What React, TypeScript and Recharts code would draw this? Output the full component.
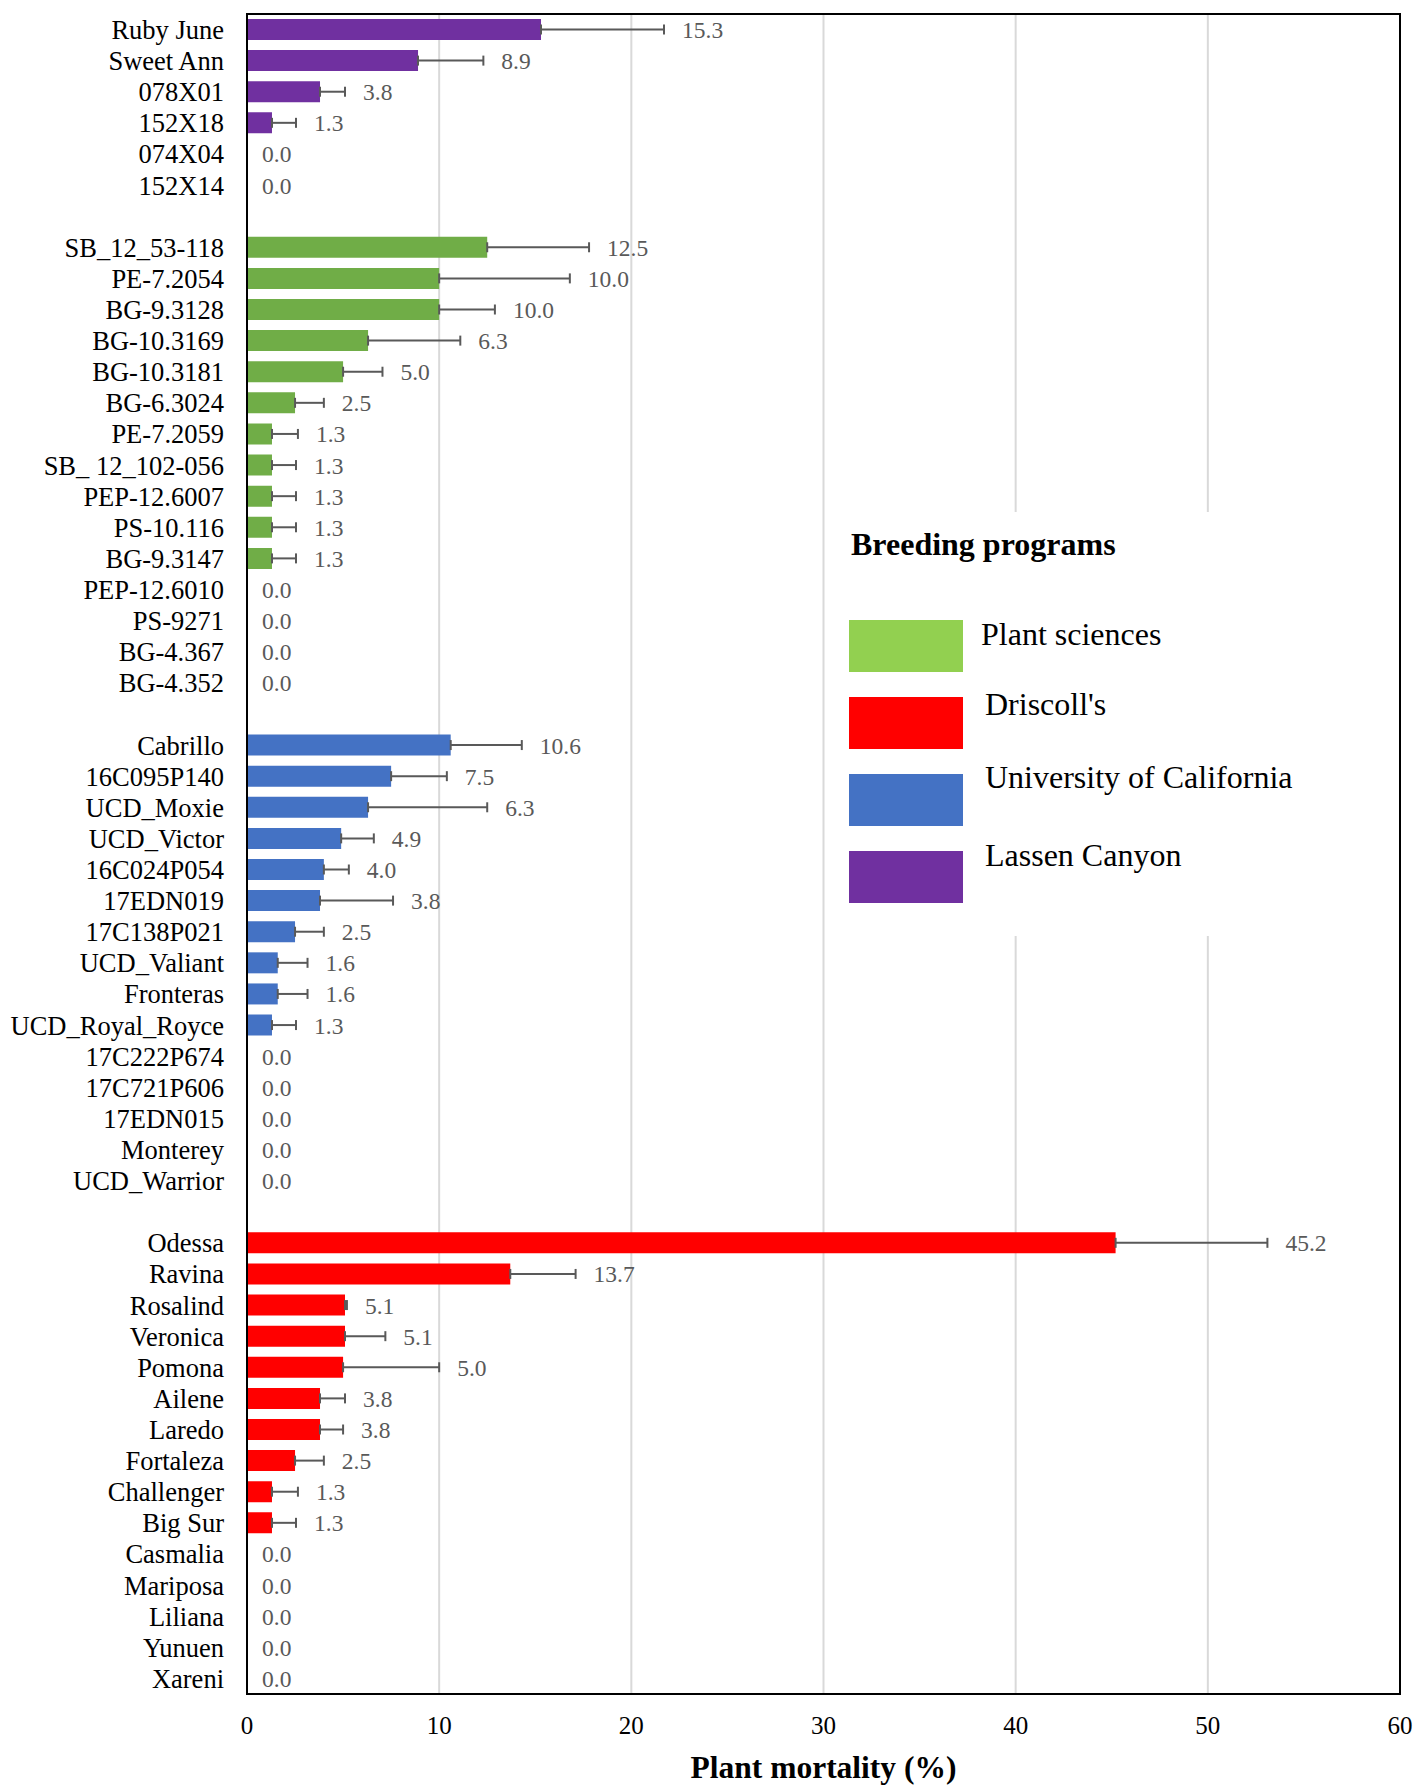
import React from "react";
import {
    BarChart,
    Bar,
    XAxis,
    YAxis,
    CartesianGrid,
    ErrorBar,
    Cell,
    LabelList,
    ReferenceArea
} from "recharts";

const FONT = '"Liberation Serif", "Times New Roman", serif';

// Lassen Canyon
const lassenNames = ["Ruby June", "Sweet Ann", "078X01", "152X18", "074X04", "152X14"];
const lassenMortality = [15.3, 8.9, 3.8, 1.3, 0, 0];
const lassenError = [6.4, 3.4, 1.3, 1.25, 0, 0];

// Plant sciences
const plantNames = [
    "SB_12_53-118", "PE-7.2054", "BG-9.3128", "BG-10.3169", "BG-10.3181", "BG-6.3024",
    "PE-7.2059", "SB_ 12_102-056", "PEP-12.6007", "PS-10.116", "BG-9.3147",
    "PEP-12.6010", "PS-9271", "BG-4.367", "BG-4.352"
];
const plantMortality = [12.5, 10.0, 10.0, 6.3, 5.0, 2.5, 1.3, 1.3, 1.3, 1.3, 1.3, 0, 0, 0, 0];
const plantError = [5.3, 6.8, 2.9, 4.8, 2.05, 1.5, 1.35, 1.25, 1.25, 1.25, 1.25, 0, 0, 0, 0];

// University of California
const ucNames = [
    "Cabrillo", "16C095P140", "UCD_Moxie", "UCD_Victor", "16C024P054", "17EDN019",
    "17C138P021", "UCD_Valiant", "Fronteras", "UCD_Royal_Royce", "17C222P674",
    "17C721P606", "17EDN015", "Monterey", "UCD_Warrior"
];
const ucMortality = [10.6, 7.5, 6.3, 4.9, 4.0, 3.8, 2.5, 1.6, 1.6, 1.3, 0, 0, 0, 0, 0];
const ucError = [3.7, 2.9, 6.2, 1.7, 1.3, 3.8, 1.5, 1.55, 1.55, 1.25, 0, 0, 0, 0, 0];

// Driscoll's
const driscollNames = [
    "Odessa", "Ravina", "Rosalind", "Veronica", "Pomona", "Ailene", "Laredo",
    "Fortaleza", "Challenger", "Big Sur", "Casmalia", "Mariposa", "Liliana", "Yunuen", "Xareni"
];
const driscollMortality = [45.2, 13.7, 5.1, 5.1, 5.0, 3.8, 3.8, 2.5, 1.3, 1.3, 0, 0, 0, 0, 0];
const driscollError = [7.9, 3.4, 0.1, 2.1, 5.0, 1.3, 1.2, 1.5, 1.35, 1.25, 0, 0, 0, 0, 0];

const xTicks = [0, 10, 20, 30, 40, 50, 60];

// order as drawn in the chart
const groups = [
    { names: lassenNames, values: lassenMortality, errors: lassenError, color: "#7030A0" },
    { names: plantNames, values: plantMortality, errors: plantError, color: "#70AD47" },
    { names: ucNames, values: ucMortality, errors: ucError, color: "#4472C4" },
    { names: driscollNames, values: driscollMortality, errors: driscollError, color: "#FF0000" },
];

// order as in the legend box
const legendItems = [
    { label: "Plant sciences", color: "#92D050" },
    { label: "Driscoll's", color: "#FF0000" },
    { label: "University of California", color: "#4472C4" },
    { label: "Lassen Canyon", color: "#7030A0" },
];
const legendTextTops = [104, 174, 247, 325];

type Row = { name: string; value: number | null; err: number; color: string };

const rows: Row[] = [];
groups.forEach((g, gi) => {
    if (gi > 0) rows.push({ name: " ".repeat(gi), value: null, err: 0, color: "none" });
    g.names.forEach((n, i) => rows.push({ name: n, value: g.values[i], err: g.errors[i], color: g.color }));
});

// label value carries "value|error" so the label can sit past the whisker
const labelKey = (d: Row) => (d.value === null ? null : `${d.value}|${d.err}`);

const ValueLabel = (props: any) => {
    const vb = props.viewBox ?? {};
    const x = vb.x ?? props.x;
    const y = vb.y ?? props.y;
    const width = vb.width ?? props.width ?? 0;
    const height = vb.height ?? props.height ?? 0;
    if (props.value === null || props.value === undefined) return null;
    const [v, e] = String(props.value).split("|").map(Number);
    const pxPerUnit = v > 0 ? width / v : 0;
    const lx = x + width + (e || 0) * pxPerUnit + (v > 0 ? 18 : 15);
    return (
        <text x={lx} y={y + height / 2} dy="0.36em" fill="#595959" fontSize={23.5} fontFamily={FONT}>
            {v.toFixed(1)}
        </text>
    );
};

const LegendBox = () => (
    <div
        style={{
            position: "absolute",
            left: 836,
            top: 512,
            width: 560,
            height: 424,
            background: "#fff",
            fontFamily: FONT,
            color: "#000",
        }}
    >
        <div style={{ position: "absolute", left: 15, top: 14, fontSize: 32, fontWeight: "bold", whiteSpace: "nowrap" }}>
            Breeding programs
        </div>
        {legendItems.map((item, i) => (
            <React.Fragment key={item.label}>
                <div
                    style={{
                        position: "absolute",
                        left: 13,
                        top: 108 + i * 77,
                        width: 114,
                        height: 52,
                        background: item.color,
                    }}
                />
                <div
                    style={{
                        position: "absolute",
                        left: i === 0 ? 145 : 149,
                        top: legendTextTops[i],
                        fontSize: 32,
                        whiteSpace: "nowrap",
                        lineHeight: "36px",
                    }}
                >
                    {item.label}
                </div>
            </React.Fragment>
        ))}
    </div>
);

const App: React.FC = () => {
    return (
        <div style={{ position: "absolute", left: 0, top: 0, width: 1418, height: 1786, background: "#fff" }}>
            <BarChart
                width={1418}
                height={1786}
                data={rows}
                layout="vertical"
                margin={{ top: 14, right: 18, left: 0, bottom: 8 }}
            >
                <CartesianGrid horizontal={false} stroke="#D9D9D9" strokeWidth={2} />
                <XAxis
                    type="number"
                    domain={[0, 60]}
                    ticks={xTicks}
                    allowDataOverflow
                    height={84}
                    tickLine={false}
                    tickSize={0}
                    tickMargin={22}
                    axisLine={{ stroke: "#000", strokeWidth: 2 }}
                    tick={{ fill: "#000", fontSize: 25, fontFamily: FONT }}
                    label={{
                        value: "Plant mortality (%)",
                        position: "insideBottom",
                        offset: 0,
                        fill: "#000",
                        fontSize: 31.5,
                        fontWeight: "bold",
                        fontFamily: FONT,
                    }}
                />
                <YAxis
                    type="category"
                    dataKey="name"
                    width={247}
                    interval={0}
                    tickLine={false}
                    tickSize={0}
                    tickMargin={23}
                    axisLine={{ stroke: "#000", strokeWidth: 2 }}
                    tick={{ fill: "#000", fontSize: 26.5, fontFamily: FONT }}
                />
                <ReferenceArea x1={0} x2={60} fill="none" stroke="#000" strokeWidth={2} ifOverflow="visible" />
                <Bar
                    dataKey="value"
                    barSize={21}
                    minPointSize={(v: number) => (v === 0 ? 0.01 : 0)}
                    isAnimationActive={false}
                >
                    {rows.map((r, i) => (
                        <Cell key={i} fill={r.color} />
                    ))}
                    <ErrorBar
                        dataKey={(d: Row) => (d.err ? [0, d.err] : null)}
                        direction="x"
                        width={5}
                        stroke="#595959"
                        strokeWidth={2}
                    />
                    <LabelList dataKey={labelKey} content={ValueLabel} />
                </Bar>
            </BarChart>
            <LegendBox />
        </div>
    );
};

export default App;
